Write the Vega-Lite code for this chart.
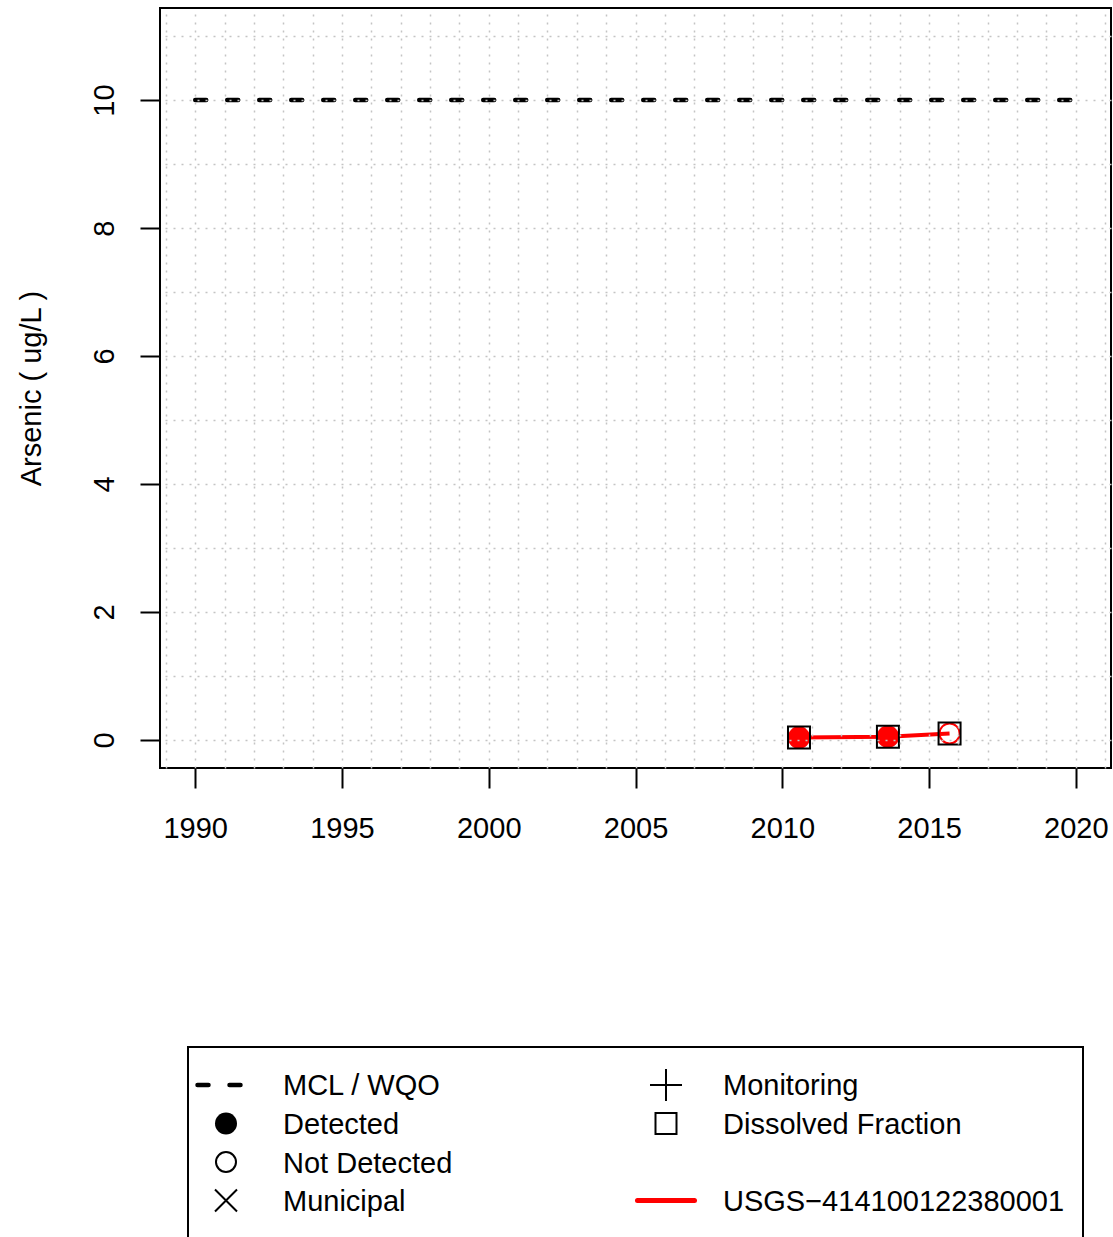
{
  "$schema": "https://vega.github.io/schema/vega-lite/v6.json",
  "padding": {"left": 16, "top": 7, "right": 0, "bottom": 0},
  "bounds": "flush",
  "spacing": 279,
  "center": true,
  "config": {"view": {"stroke": null}, "font": "Liberation Sans"},
  "datasets": {
    "samples": [
      {"date": 2010.57, "arsenic": 0.036, "status": "Detected", "fraction": "Dissolved", "site": "USGS-414100122380001"},
      {"date": 2013.6, "arsenic": 0.05, "status": "Detected", "fraction": "Dissolved", "site": "USGS-414100122380001"},
      {"date": 2015.7, "arsenic": 0.1, "status": "Not Detected", "fraction": "Dissolved", "site": "USGS-414100122380001"}
    ],
    "mcl": [{"start": 1990, "end": 2020, "limit": 10}],
    "legend": [
      {"label": "MCL / WQO", "col": 0, "row": 0, "symbol": "dash"},
      {"label": "Detected", "col": 0, "row": 1, "symbol": "filled"},
      {"label": "Not Detected", "col": 0, "row": 2, "symbol": "open"},
      {"label": "Municipal", "col": 0, "row": 3, "symbol": "x"},
      {"label": "Monitoring", "col": 1, "row": 0, "symbol": "plus"},
      {"label": "Dissolved Fraction", "col": 1, "row": 1, "symbol": "square"},
      {"label": "USGS−414100122380001", "col": 1, "row": 3, "symbol": "line"}
    ]
  },
  "vconcat": [
    {
      "width": 951,
      "height": 760,
      "view": {"stroke": "black", "strokeWidth": 2},
      "resolve": {"axis": {"x": "independent", "y": "independent"}},
      "layer": [
        {
          "data": {"name": "mcl"},
          "mark": {"type": "rule", "strokeDash": [11, 21], "strokeWidth": 4.5, "strokeCap": "round", "color": "black"},
          "encoding": {
            "x": {"field": "start", "type": "quantitative", "scale": {"domain": [1988.8, 2021.2], "nice": false, "zero": false},
              "axis": {"orient": "bottom", "values": [1990, 1995, 2000, 2005, 2010, 2015, 2020], "format": "d", "grid": false, "domain": false,
                "tickSize": 20, "tickWidth": 2, "tickColor": "black", "labelFontSize": 29, "labelFont": "Liberation Sans", "labelColor": "black",
                "labelPadding": 49, "labelBaseline": "alphabetic", "labelAlign": "center", "labelFlush": false, "labelOverlap": false, "title": null, "zindex": 1}},
            "x2": {"field": "end"},
            "y": {"field": "limit", "type": "quantitative", "scale": {"domain": [-0.44, 11.44], "nice": false, "zero": false},
              "axis": {"orient": "left", "values": [0, 2, 4, 6, 8, 10], "grid": false, "domain": false,
                "tickSize": 20, "tickWidth": 2, "tickColor": "black", "labelFontSize": 29, "labelFont": "Liberation Sans", "labelColor": "black",
                "labelAngle": -90, "labelAlign": "center", "labelBaseline": "alphabetic", "labelPadding": 27, "labelOverlap": false, "labelFlush": false,
                "title": "Arsenic ( ug/L )", "titleFontSize": 29, "titleFont": "Liberation Sans", "titleFontWeight": "normal", "titleColor": "black",
                "titleAngle": -90, "titleAlign": "center", "titleBaseline": "alphabetic", "titleX": -120, "titleY": 380, "zindex": 1}}
          }
        },
        {
          "data": {"name": "samples"},
          "transform": [{"filter": "datum.status === 'Detected'"}],
          "mark": {"type": "point", "shape": "circle", "filled": true, "color": "red", "size": 500, "opacity": 1},
          "encoding": {
            "x": {"field": "date", "type": "quantitative", "scale": {"domain": [1988.8, 2021.2], "nice": false, "zero": false},
              "axis": {"orient": "top", "values": [1989, 1990, 1991, 1992, 1993, 1994, 1995, 1996, 1997, 1998, 1999, 2000, 2001, 2002, 2003, 2004, 2005, 2006, 2007, 2008, 2009, 2010, 2011, 2012, 2013, 2014, 2015, 2016, 2017, 2018, 2019, 2020, 2021],
                "grid": true, "gridColor": "#c4c4c4", "gridDash": [2, 6], "gridWidth": 1.5, "ticks": false, "labels": false, "domain": false, "title": null, "zindex": 1}},
            "y": {"field": "arsenic", "type": "quantitative", "scale": {"domain": [-0.44, 11.44], "nice": false, "zero": false},
              "axis": {"orient": "right", "values": [0, 1, 2, 3, 4, 5, 6, 7, 8, 9, 10, 11],
                "grid": true, "gridColor": "#c4c4c4", "gridDash": [2, 6], "gridWidth": 1.5, "ticks": false, "labels": false, "domain": false, "title": null, "zindex": 1}}
          }
        },
        {
          "data": {"name": "samples"},
          "transform": [{"filter": "datum.status === 'Not Detected'"}],
          "mark": {"type": "point", "shape": "circle", "filled": true, "fill": "white", "stroke": "red", "strokeWidth": 2, "size": 400, "opacity": 1},
          "encoding": {
            "x": {"field": "date", "type": "quantitative", "scale": {"domain": [1988.8, 2021.2], "nice": false, "zero": false}, "axis": null},
            "y": {"field": "arsenic", "type": "quantitative", "scale": {"domain": [-0.44, 11.44], "nice": false, "zero": false}, "axis": null}
          }
        },
        {
          "data": {"name": "samples"},
          "mark": {"type": "line", "color": "red", "strokeWidth": 4},
          "encoding": {
            "x": {"field": "date", "type": "quantitative", "scale": {"domain": [1988.8, 2021.2], "nice": false, "zero": false}, "axis": null},
            "y": {"field": "arsenic", "type": "quantitative", "scale": {"domain": [-0.44, 11.44], "nice": false, "zero": false}, "axis": null}
          }
        },
        {
          "data": {"name": "samples"},
          "mark": {"type": "point", "shape": "square", "filled": false, "stroke": "black", "strokeWidth": 2, "size": 484, "opacity": 1},
          "encoding": {
            "x": {"field": "date", "type": "quantitative", "scale": {"domain": [1988.8, 2021.2], "nice": false, "zero": false}, "axis": null},
            "y": {"field": "arsenic", "type": "quantitative", "scale": {"domain": [-0.44, 11.44], "nice": false, "zero": false}, "axis": null}
          }
        }
      ]
    },
    {
      "width": 895,
      "height": 192,
      "view": {"stroke": "black", "strokeWidth": 2},
      "data": {"name": "legend"},
      "layer": [
        {
          "transform": [{"filter": "datum.symbol === 'dash'"}],
          "mark": {"type": "rule", "strokeDash": [11, 21], "strokeWidth": 4.5, "strokeCap": "round", "color": "black", "xOffset": -28.5, "x2Offset": 28.5},
          "encoding": {
            "x": {"field": "col", "type": "quantitative", "scale": {"domain": [-0.08636, 1.94773], "nice": false, "zero": false}, "axis": null},
            "x2": {"field": "col"},
            "y": {"field": "row", "type": "quantitative", "scale": {"domain": [-0.98701, 4.0], "nice": false, "zero": false, "reverse": true}, "axis": null}
          }
        },
        {
          "transform": [{"filter": "datum.symbol === 'line'"}],
          "mark": {"type": "rule", "strokeWidth": 5, "strokeCap": "round", "color": "red", "xOffset": -28.5, "x2Offset": 28.5},
          "encoding": {
            "x": {"field": "col", "type": "quantitative", "scale": {"domain": [-0.08636, 1.94773], "nice": false, "zero": false}, "axis": null},
            "x2": {"field": "col"},
            "y": {"field": "row", "type": "quantitative", "scale": {"domain": [-0.98701, 4.0], "nice": false, "zero": false, "reverse": true}, "axis": null}
          }
        },
        {
          "transform": [{"filter": "datum.symbol === 'filled'"}],
          "mark": {"type": "point", "shape": "circle", "filled": true, "color": "black", "size": 484, "opacity": 1},
          "encoding": {
            "x": {"field": "col", "type": "quantitative", "scale": {"domain": [-0.08636, 1.94773], "nice": false, "zero": false}, "axis": null},
            "y": {"field": "row", "type": "quantitative", "scale": {"domain": [-0.98701, 4.0], "nice": false, "zero": false, "reverse": true}, "axis": null}
          }
        },
        {
          "transform": [{"filter": "datum.symbol === 'open'"}],
          "mark": {"type": "point", "shape": "circle", "filled": false, "stroke": "black", "strokeWidth": 2, "size": 400, "opacity": 1},
          "encoding": {
            "x": {"field": "col", "type": "quantitative", "scale": {"domain": [-0.08636, 1.94773], "nice": false, "zero": false}, "axis": null},
            "y": {"field": "row", "type": "quantitative", "scale": {"domain": [-0.98701, 4.0], "nice": false, "zero": false, "reverse": true}, "axis": null}
          }
        },
        {
          "transform": [{"filter": "datum.symbol === 'x'"}],
          "mark": {"type": "point", "shape": "M-1,-1L1,1M-1,1L1,-1", "filled": false, "stroke": "black", "strokeWidth": 2, "size": 484, "opacity": 1},
          "encoding": {
            "x": {"field": "col", "type": "quantitative", "scale": {"domain": [-0.08636, 1.94773], "nice": false, "zero": false}, "axis": null},
            "y": {"field": "row", "type": "quantitative", "scale": {"domain": [-0.98701, 4.0], "nice": false, "zero": false, "reverse": true}, "axis": null}
          }
        },
        {
          "transform": [{"filter": "datum.symbol === 'plus'"}],
          "mark": {"type": "point", "shape": "M-1,0L1,0M0,-1L0,1", "filled": false, "stroke": "black", "strokeWidth": 2, "size": 1024, "opacity": 1},
          "encoding": {
            "x": {"field": "col", "type": "quantitative", "scale": {"domain": [-0.08636, 1.94773], "nice": false, "zero": false}, "axis": null},
            "y": {"field": "row", "type": "quantitative", "scale": {"domain": [-0.98701, 4.0], "nice": false, "zero": false, "reverse": true}, "axis": null}
          }
        },
        {
          "transform": [{"filter": "datum.symbol === 'square'"}],
          "mark": {"type": "point", "shape": "square", "filled": false, "stroke": "black", "strokeWidth": 2, "size": 441, "opacity": 1},
          "encoding": {
            "x": {"field": "col", "type": "quantitative", "scale": {"domain": [-0.08636, 1.94773], "nice": false, "zero": false}, "axis": null},
            "y": {"field": "row", "type": "quantitative", "scale": {"domain": [-0.98701, 4.0], "nice": false, "zero": false, "reverse": true}, "axis": null}
          }
        },
        {
          "mark": {"type": "text", "align": "left", "baseline": "alphabetic", "dx": 57, "dy": 10.5, "fontSize": 29, "font": "Liberation Sans", "color": "black"},
          "encoding": {
            "x": {"field": "col", "type": "quantitative", "scale": {"domain": [-0.08636, 1.94773], "nice": false, "zero": false}, "axis": null},
            "y": {"field": "row", "type": "quantitative", "scale": {"domain": [-0.98701, 4.0], "nice": false, "zero": false, "reverse": true}, "axis": null},
            "text": {"field": "label", "type": "nominal"}
          }
        }
      ]
    }
  ]
}
